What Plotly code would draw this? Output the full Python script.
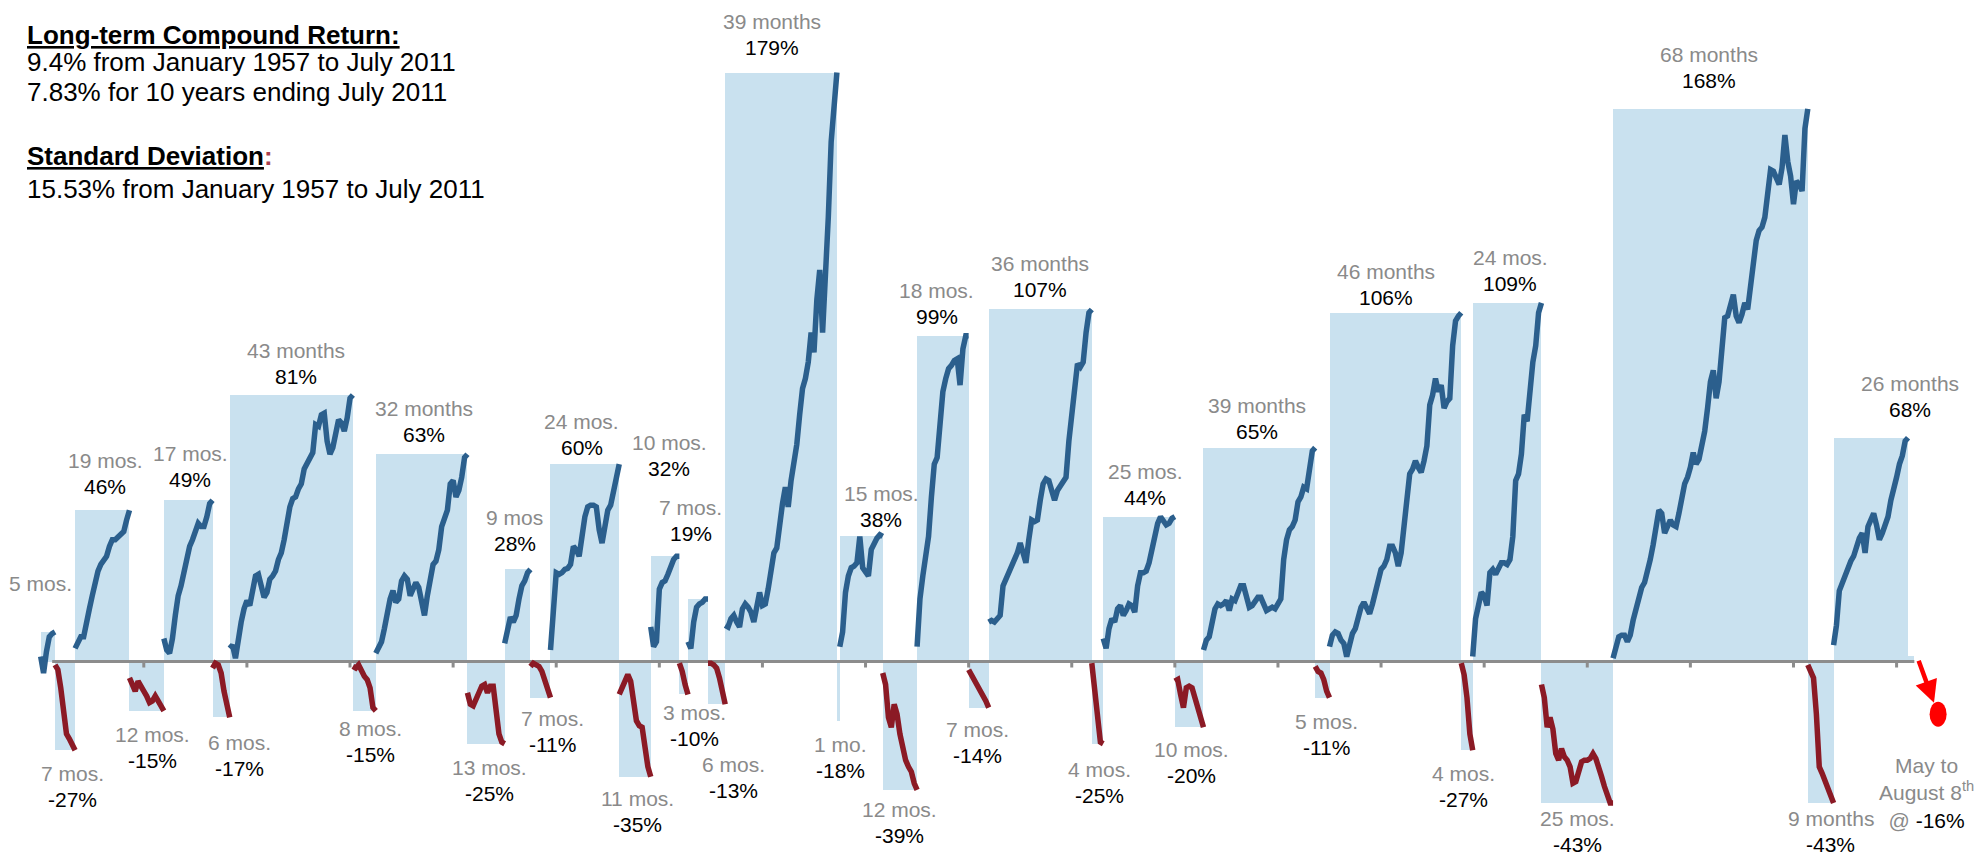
import plotly.graph_objects as go

# ---------------------------------------------------------------------------
# Bull / bear cycles since January 1957 (month 0 = January 1957)
# ---------------------------------------------------------------------------
durations = [5, 7, 19, 12, 17, 6, 43, 8, 32, 13, 9, 7, 24, 11, 10, 3, 7, 6, 39, 1,
             15, 12, 18, 7, 36, 4, 25, 10, 39, 5, 46, 4, 24, 25, 68, 9, 26]
returns = [9, -27, 46, -15, 49, -17, 81, -15, 63, -25, 28, -11, 60, -35, 32, -10, 19, -13,
           179, -18, 38, -39, 99, -14, 107, -25, 44, -20, 65, -11, 106, -27, 109, -43,
           168, -43, 68]
duration_labels = ["5 mos.", "7 mos.", "19 mos.", "12 mos.", "17 mos.", "6 mos.", "43 months",
                   "8 mos.", "32 months", "13 mos.", "9 mos", "7 mos.", "24 mos.", "11 mos.",
                   "10 mos.", "3 mos.", "7 mos.", "6 mos.", "39 months", "1 mo.", "15 mos.",
                   "12 mos.", "18 mos.", "7 mos.", "36 months", "4 mos.", "25 mos.", "10 mos.",
                   "39 months", "5 mos.", "46 months", "4 mos.", "24 mos.", "25 mos.",
                   "68 months", "9 months", "26 months"]
show_return_label = [False] + [True] * 36

# Monthly cumulative return path (%) inside each cycle, one value per month boundary
path_01 = [1.5, -3.5, 3, 7.5, 8.5, 9]
path_02 = [-1, -2.5, -8, -15, -22, -23.5, -25, -27]
path_03 = [4, 6, 7.5, 7.5, 11, 16, 20, 24, 27.5, 29.5, 31, 32, 35, 37, 37, 38, 39, 39.5, 43, 46]
path_04 = [-5, -7.5, -9, -6, -8, -9, -10.5, -12.5, -12, -10.5, -12, -14, -15]
path_05 = [7, 3.5, 2.5, 7, 14, 20, 23, 27.5, 31.5, 35, 37, 40, 42, 41, 41, 44, 48, 49]
path_06 = [-2, -0.5, -1, -3.5, -9, -13.5, -17]
path_07 = [4, 5, 1, 8, 12, 16, 18.5, 17, 22, 26, 26.5, 23, 19.5, 21, 25, 26, 27.5, 31, 33, 37,
           43, 47, 49.5, 50, 52.5, 54, 58.5, 60.5, 62, 63.5, 72, 71.5, 75, 75.5, 67, 63, 65, 70,
           73.5, 72.5, 70, 74, 80, 81]
path_08 = [-1.5, -2, -1, -3, -4.5, -5.5, -8, -14, -15]
path_09 = [2.5, 4, 6, 10, 15, 19, 21.5, 18, 19, 24.5, 26, 25, 20, 22, 24, 22.5, 18, 14, 20, 26,
           29.5, 30.5, 34, 41, 43, 46, 54, 55, 50, 52, 56, 62, 63]
path_10 = [-9.5, -13, -13.5, -11, -9.5, -7.5, -7, -9.5, -7.5, -7.5, -15, -22, -24.5, -25]
path_11 = [5.5, 9, 13.5, 12, 14, 19, 23, 24.5, 27, 28]
path_12 = [-1.5, -0.5, -1, -1.5, -3, -6, -9.5, -11]
path_13 = [3.5, 14, 27, 26.5, 27, 28, 28.3, 29.5, 35, 34, 32, 38, 44, 47, 47.5, 47.5, 47, 40, 36,
           41, 46, 47.5, 52, 57, 60]
path_14 = [-10, -8, -6, -4, -6, -13, -18, -19.5, -20, -26, -32, -35]
path_15 = [10.5, 4.5, 6, 22, 24, 24.5, 26.5, 29, 31, 32, 32]
path_16 = [-0.5, -3, -7, -10]
path_17 = [6, 4, 12, 16.5, 17.5, 18, 19, 19]
path_18 = [-0.5, -0.5, -1, -2, -5, -9, -13]
path_19 = [11, 10.5, 13, 14, 12, 10.5, 16, 17.5, 16.5, 15, 12, 17, 21, 17, 17.5, 22, 28, 33, 34.5,
           43, 48, 53, 47, 55, 61, 66, 75, 83, 86, 91, 100, 94, 110, 119, 100, 115, 135, 158,
           170, 179]
path_20 = None  # one-month crash: box only
path_21 = [4.5, 9, 21, 26, 28.5, 29, 30, 38, 28.5, 27, 26, 34, 36, 37.5, 38.5, 38]
path_22 = [-3.5, -7, -17, -20, -13, -16, -22, -27, -30, -32, -33.5, -37, -39]
path_23 = [4.5, 19, 26, 33, 38, 50, 60, 62, 72, 82, 86, 89, 90, 91.5, 92, 84, 95, 99, 99]
path_24 = [-2.5, -4, -5.5, -7.5, -9, -10.5, -12, -14]
path_25 = [12, 12.5, 12, 13, 14, 23, 25, 26, 28, 31, 33, 36, 33, 30, 37, 43, 42.5, 43, 49, 54,
           55.5, 55, 52, 49, 52, 53.5, 55, 56, 67, 75, 85, 90.5, 89.5, 91, 100, 106, 107]
path_26 = [-0.5, -9, -19.5, -24.5, -25]
path_27 = [7, 4, 10, 13, 12, 16, 17, 14, 15.5, 17.5, 17, 15, 23, 27, 27, 27.5, 30, 34, 37, 42,
           44, 43, 41.5, 42, 43.5, 44]
path_28 = [-6, -5.5, -10, -14, -8, -7.5, -8, -11, -15, -18, -20]
path_29 = [3.5, 6.5, 7.5, 13, 16, 17.5, 17, 17.5, 18.5, 15.5, 19, 18.5, 20.5, 23, 23, 19, 16.5,
           17, 18.5, 19.5, 19.5, 17, 15.5, 16, 16.5, 16, 17.5, 19, 31, 37, 40, 41, 43, 48.5, 50,
           53, 52.5, 58, 64, 65]
path_30 = [-1.5, -3, -3.5, -5.5, -9, -11]
path_31 = [4.5, 8, 9, 8.5, 6.5, 5.5, 1.5, 5, 8.5, 10, 14, 16.5, 18, 16.5, 14.5, 17.5, 20.5, 25,
           28, 29, 31, 35, 35, 33, 29, 33, 42, 47, 57, 58.5, 61, 59, 57.5, 61, 65.5, 78, 81, 86,
           82, 84, 77, 79, 80, 96, 103.5, 105, 106]
path_32 = [-0.5, -4, -11, -22, -27]
path_33 = [1.5, 13, 17, 21, 20, 17, 27, 28, 26.5, 28, 30, 30, 29.5, 31, 38, 55, 57, 63, 75, 73,
           84, 91, 96, 106, 109]
path_34 = [-7, -11, -20, -17, -20.5, -28, -30, -26.5, -29, -30, -32, -37, -36.5, -33, -30.5,
           -30, -30, -29.5, -28, -29.5, -33, -35, -38, -41, -43, -43]
path_35 = [1, 5, 7.5, 8, 8, 6, 8, 12.5, 16, 19, 22.5, 24, 27, 31, 35.5, 41, 46, 45, 39, 41, 43,
           41.5, 41, 45, 50, 54, 56, 59, 63.5, 60, 61.5, 65, 70, 77, 85, 88.5, 80, 85, 97, 104.5,
           105, 108, 111.5, 105, 103, 105.5, 109, 107, 114, 123, 128, 131, 132, 135, 142, 149.5,
           149, 147, 145, 150, 160, 152, 147.5, 139, 146, 145, 143, 162, 168]
path_36 = [-1, -3, -5, -16, -32, -34, -36, -38.5, -41, -43]
path_37 = [5, 11, 21.5, 24, 26.5, 29, 30.5, 32, 35, 37.5, 39, 33, 41, 43.5, 45, 41.5, 37, 39,
           41.5, 44, 49, 52, 56, 60, 62.5, 67, 68]

paths = [path_01, path_02, path_03, path_04, path_05, path_06, path_07, path_08, path_09,
         path_10, path_11, path_12, path_13, path_14, path_15, path_16, path_17, path_18,
         path_19, path_20, path_21, path_22, path_23, path_24, path_25, path_26, path_27,
         path_28, path_29, path_30, path_31, path_32, path_33, path_34, path_35, path_36,
         path_37]

tick_every = 36            # months between baseline ticks
recent_strip_months = 2.2  # short strip after the last advance
recent_strip_value = 1.7
current_return = -16       # May to August 8th, 2011

header_lines = [
    "<b><u>Long-term Compound Return:</u></b>",
    "9.4% from January 1957 to July 2011",
    "7.83% for 10 years ending July 2011",
    "<b><u>Standard Deviation</u><span style='color:#a8404b'>:</span></b>",
    "15.53% from January 1957 to July 2011",
]

# ---------------------------------------------------------------------------
# Styles and placement
# ---------------------------------------------------------------------------
W, H = 1974, 855
X_RANGE = [-14.21, 675.03]
Y_RANGE = [-58.81, 201.06]
BOX = "#c9e1ef"
BULL = "#2b5f8d"
BEAR = "#8b1a25"
GREY_TXT = "#8a8a8a"
AXIS = "#8c8c8c"
FONT = "Liberation Sans, Arial, sans-serif"
LABEL_SIZE = 21
HEADER_SIZE = 26
LINE_W = 5.5
AXIS_START = 4
DOT_OFFSET = 10.5          # months to the right of the last cycle
PX_PER_PCT = H / (Y_RANGE[1] - Y_RANGE[0])

# (dx, dy) pixel nudges for each cycle's pair of labels (dy positive = down)
label_nudges = [(-7, -3), (7, 1), (3, -5), (6, 2), (2, -2), (18, 3), (5, 0), (6, -4), (2, -1),
                (3, 2), (-3, -7), (12, -1), (-3, 2), (3, 0), (4, -69), (11, -4), (-7, -47),
                (17, 38), (-9, -6), (2, 2), (20, 2), (0, -2), (-6, 0), (-1, 0), (0, -1), (2, 4),
                (6, 0), (2, 0), (-2, 3), (4, 2), (-9, 4), (-3, 1), (3, 0), (0, -6), (-1, -9),
                (10, -6), (39, -9)]
header_y_px = [34.5, 62.2, 92.5, 156.3, 188.7]

for d, p in zip(durations, paths):
    assert p is None or len(p) == d + 1

starts = []
t = 0
for d in durations:
    starts.append(t)
    t += d
end_month = t

fig = go.Figure()

# Shaded boxes: width = cycle length, height = cycle return
fig.add_trace(go.Bar(
    x=[s + d / 2 for s, d in zip(starts, durations)], y=returns, width=durations,
    marker=dict(color=BOX, line=dict(width=0)), hoverinfo="skip", showlegend=False))
fig.add_trace(go.Bar(
    x=[end_month + recent_strip_months / 2], y=[recent_strip_value],
    width=[recent_strip_months],
    marker=dict(color=BOX, line=dict(width=0)), hoverinfo="skip", showlegend=False))

# Baseline and tick marks
fig.add_trace(go.Scatter(
    x=[AXIS_START, end_month + recent_strip_months], y=[0, 0], mode="lines",
    line=dict(color=AXIS, width=3), hoverinfo="skip", showlegend=False))
tx, ty = [], []
for m in range(tick_every, int(end_month) + 1, tick_every):
    tx += [m, m, None]
    ty += [0.3, -6 / PX_PER_PCT, None]
fig.add_trace(go.Scatter(x=tx, y=ty, mode="lines", line=dict(color=AXIS, width=3),
                         hoverinfo="skip", showlegend=False))

# Cycle paths
bull_x, bull_y, bear_x, bear_y = [], [], [], []
for s, r, p in zip(starts, returns, paths):
    if p is None:
        continue
    xs = [s + k for k in range(len(p))]
    if r > 0:
        bull_x += xs + [None]
        bull_y += p + [None]
    else:
        bear_x += xs + [None]
        bear_y += p + [None]
fig.add_trace(go.Scatter(x=bull_x, y=bull_y, mode="lines", line=dict(color=BULL, width=LINE_W),
                         hoverinfo="skip", showlegend=False))
fig.add_trace(go.Scatter(x=bear_x, y=bear_y, mode="lines", line=dict(color=BEAR, width=LINE_W),
                         hoverinfo="skip", showlegend=False))

# Cycle labels
for s, d, r, lab, show, (dx, dy) in zip(starts, durations, returns, duration_labels,
                                         show_return_label, label_nudges):
    cx = s + d / 2
    if r > 0:
        pct_shift = 19 - dy
        dur_shift = 45 - dy
    else:
        dur_shift = -(22 + dy)
        pct_shift = -(48 + dy)
    fig.add_annotation(x=cx, y=r, xshift=dx, yshift=dur_shift, text=lab, showarrow=False,
                       xanchor="center", yanchor="middle",
                       font=dict(family=FONT, size=LABEL_SIZE, color=GREY_TXT))
    if show:
        fig.add_annotation(x=cx, y=r, xshift=dx, yshift=pct_shift, text=f"{r}%",
                           showarrow=False, xanchor="center", yanchor="middle",
                           font=dict(family=FONT, size=LABEL_SIZE, color="#000000"))

# Current decline marker
dot_x = end_month + DOT_OFFSET
fig.add_shape(type="circle", xref="x", yref="y", xsizemode="pixel", ysizemode="pixel",
              xanchor=dot_x, yanchor=current_return, x0=-8.5, x1=8.5, y0=-12.5, y1=12.5,
              fillcolor="#ff0000", line=dict(width=0))
fig.add_annotation(x=dot_x, y=current_return, ax=-20, ay=-55, text="", showarrow=True,
                   arrowhead=2, arrowsize=1, arrowwidth=4.5, arrowcolor="#ff0000",
                   standoff=12)
fig.add_annotation(
    x=dot_x, y=current_return, xshift=-12, yshift=-79,
    text=(f"<span style='color:{GREY_TXT}'>May to</span><br>"
          f"<span style='color:{GREY_TXT}'>August 8<sup>th</sup></span><br>"
          f"<span style='color:{GREY_TXT}'>@</span> {current_return}%"),
    showarrow=False, xanchor="center", yanchor="middle", align="center",
    font=dict(family=FONT, size=LABEL_SIZE, color="#000000"))

# Header text
for line, ypx in zip(header_lines, header_y_px):
    fig.add_annotation(xref="paper", yref="paper", x=25 / W, y=1 - ypx / H, text=line,
                       showarrow=False, xanchor="left", yanchor="middle",
                       font=dict(family=FONT, size=HEADER_SIZE, color="#000000"))

fig.update_layout(
    width=W, height=H, margin=dict(l=0, r=0, t=0, b=0),
    paper_bgcolor="white", plot_bgcolor="white", barmode="overlay", bargap=0,
    xaxis=dict(range=X_RANGE, visible=False, fixedrange=True),
    yaxis=dict(range=Y_RANGE, visible=False, fixedrange=True),
    hovermode=False,
)

fig.write_html("out.html")
